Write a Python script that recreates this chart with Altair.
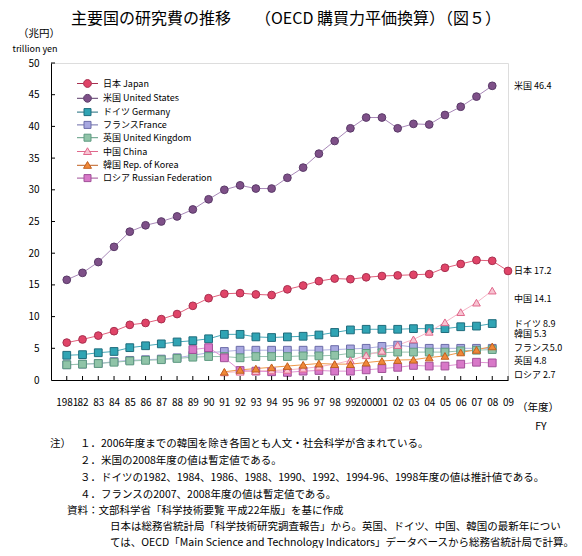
import altair as alt
import pandas as pd

FONT = "Noto Sans CJK JP"

# ---------------- data ----------------
years_all = list(range(1981, 2010))
series_names = ["日本 Japan", "米国 United States", "ドイツ Germany", "フランスFrance",
                "英国 United Kingdom", "中国 China", "韓国 Rep. of Korea", "ロシア Russian Federation"]
start_years = [1981, 1981, 1981, 1981, 1981, 1991, 1991, 1989]

japan = [5.9, 6.4, 7.0, 7.7, 8.7, 9.0, 9.6, 10.4, 11.7, 12.9, 13.6, 13.7, 13.5, 13.4, 14.3,
         14.9, 15.6, 16.0, 15.9, 16.2, 16.4, 16.5, 16.6, 16.7, 17.7, 18.3, 18.9, 18.8, 17.2]
usa = [15.8, 16.9, 18.6, 21.0, 23.4, 24.4, 25.0, 25.8, 26.9, 28.5, 30.0, 30.7, 30.2, 30.2,
       31.9, 33.5, 35.7, 37.7, 39.7, 41.4, 41.4, 39.7, 40.4, 40.3, 41.8, 43.1, 44.7, 46.4]
germany = [3.9, 4.0, 4.3, 4.5, 5.1, 5.4, 5.7, 6.0, 6.2, 6.5, 7.2, 7.2, 6.8, 6.7, 6.8, 6.9,
           7.1, 7.5, 7.9, 8.0, 8.0, 8.0, 8.1, 8.1, 8.1, 8.4, 8.5, 8.9]
france = [2.4, 2.5, 2.6, 2.9, 3.1, 3.2, 3.3, 3.5, 3.9, 4.3, 4.5, 4.7, 4.7, 4.7, 4.7, 4.7,
          4.7, 4.8, 4.9, 5.0, 5.3, 5.5, 5.2, 5.0, 5.0, 5.0, 5.0, 5.0]
uk = [2.4, 2.5, 2.6, 2.8, 3.0, 3.1, 3.2, 3.4, 3.6, 3.7, 3.7, 3.5, 3.7, 3.7, 3.7, 3.8, 3.8,
      3.9, 4.2, 4.2, 4.3, 4.4, 4.4, 4.4, 4.4, 4.6, 4.7, 4.8]
china = [1.2, 1.3, 1.4, 1.5, 1.6, 1.8, 2.1, 2.5, 3.1, 3.9, 4.6, 5.5, 6.4, 7.6, 9.1, 10.7,
         12.2, 14.1]
korea = [1.3, 1.6, 1.8, 2.0, 2.2, 2.4, 2.6, 2.5, 2.5, 2.75, 3.0, 3.15, 3.2, 3.55, 3.8, 4.35,
         4.75, 5.3]
russia = [4.8, 5.1, 3.5, 1.5, 1.4, 1.3, 1.2, 1.4, 1.5, 1.4, 1.4, 1.6, 1.8, 2.0, 2.3, 2.2,
          2.2, 2.5, 2.8, 2.7]
series_values = [japan, usa, germany, france, uk, china, korea, russia]

end_labels = ["米国 46.4", "日本 17.2", "中国 14.1", "ドイツ 8.9", "韓国 5.3",
              "フランス5.0", "英国 4.8", "ロシア 2.7"]
end_label_y = [46.4, 17.2, 12.7, 8.9, 7.3, 5.0, 2.95, 0.75]

y_ticks = list(range(5, 51, 5))

notes = [
    "１．2006年度までの韓国を除き各国とも人文・社会科学が含まれている。",
    "２．米国の2008年度の値は暫定値である。",
    "３．ドイツの1982、1984、1986、1988、1990、1992、1994-96、1998年度の値は推計値である。",
    "４．フランスの2007、2008年度の値は暫定値である。",
]
source_lines = [
    "資料：文部科学省「科学技術要覧 平成22年版」を基に作成",
    "日本は総務省統計局「科学技術研究調査報告」から。英国、ドイツ、中国、韓国の最新年につい",
    "ては、OECD「Main Science and Technology Indicators」データベースから総務省統計局で計算。",
]

rows = []
for name, start, vals in zip(series_names, start_years, series_values):
    for i, v in enumerate(vals):
        rows.append({"year": start + i, "value": v, "series": name})
df = pd.DataFrame(rows)

# ---------------- style ----------------
line_colors = ["#e0607c", "#a888b8", "#48a8b8", "#b0b0e0", "#98c4b0", "#f6b4c6", "#f09848", "#e094d4"]
fill_colors = ["#e04468", "#7e5088", "#30a4b4", "#a8a8e0", "#90c4a8", "#f8c4d2", "#f08838", "#d878c8"]
stroke_colors = ["#a83050", "#5a3a68", "#1e6c7c", "#6c6ca8", "#5e9a80", "#e0688c", "#c06020", "#a05098"]
CIRC = "M-2.1,0H-0.78M0.78,0H2.1M-0.78,0A0.78,0.78 0 1,0 0.78,0A0.78,0.78 0 1,0 -0.78,0Z"
SQ = "M-2.1,0H-0.7M0.7,0H2.1M-0.7,-0.7H0.7V0.7H-0.7Z"
TRI = "M-2.1,0H-0.4M0.4,0H2.1M0,-0.75L0.8,0.6H-0.8Z"
legend_paths = [CIRC, CIRC, SQ, SQ, SQ, TRI, TRI, SQ]
marker_groups = {
    "circle": [series_names[0], series_names[1]],
    "square": [series_names[2], series_names[3], series_names[4], series_names[7]],
    "triangle-up": [series_names[5], series_names[6]],
}

W, H = 457, 317
PAD_L, PAD_T = 43, 55
TOTAL_W, TOTAL_H = 566, 540
OX, OY = 8 + PAD_L, 8 + PAD_T  # page position of plot origin

x_scale = alt.Scale(domain=[1980, 2009], nice=False, zero=False)
y_scale = alt.Scale(domain=[0, 50], nice=False)
label_expr = ("datum.value == 1981 || datum.value == 2000 ? toString(datum.value) : "
              "slice(toString(datum.value), 2)")

x_axis = alt.Axis(values=years_all, labelExpr=label_expr, ticks=False, grid=False, title=None,
                  labelOverlap=False, labelFlush=False, labelPadding=17, labelFontSize=10,
                  labelFont=FONT, labelColor="#000", domainColor="#000", domainWidth=1)
y_axis = alt.Axis(values=list(range(0, 51, 5)), ticks=False, grid=False, title=None,
                  labelPadding=12, labelFontSize=10, labelFont=FONT, labelColor="#000",
                  domainColor="#000", domainWidth=1)

X = alt.X("year:Q", scale=x_scale, axis=x_axis)
Y = alt.Y("value:Q", scale=y_scale, axis=y_axis)

base = alt.Chart(df)

lines = base.mark_line(strokeWidth=1).encode(
    x=X, y=Y,
    color=alt.Color("series:N", scale=alt.Scale(domain=series_names, range=line_colors), legend=None),
    detail="series:N",
)

point_layers = []
for shape, members in marker_groups.items():
    point_layers.append(
        base.transform_filter(alt.FieldOneOfPredicate(field="series", oneOf=members))
        .mark_point(shape=shape, filled=True, size=60, strokeWidth=1, opacity=1)
        .encode(
            x=X, y=Y,
            fill=alt.Fill("series:N", scale=alt.Scale(domain=series_names, range=fill_colors), legend=None),
            stroke=alt.Stroke("series:N", scale=alt.Scale(domain=series_names, range=stroke_colors), legend=None),
        )
    )

legend_kw = dict(orient="none", legendX=31, legendY=15, title=None, labelFont=FONT,
                 labelFontSize=9, labelColor="#000", symbolSize=100, symbolStrokeWidth=1,
                 rowPadding=1.8, labelOffset=10, padding=0, symbolOpacity=1)
# legend-only layer: draws no rows, entries come from the scale domains
legend_layer = base.transform_filter(alt.datum.year < 0).mark_point(filled=True).encode(
    x=X, y=Y,
    fill=alt.Fill("series:N", scale=alt.Scale(domain=series_names, range=fill_colors),
                  legend=alt.Legend(**legend_kw)),
    stroke=alt.Stroke("series:N", scale=alt.Scale(domain=series_names, range=stroke_colors),
                      legend=alt.Legend(**legend_kw)),
    shape=alt.Shape("series:N", scale=alt.Scale(domain=series_names, range=legend_paths),
                    legend=alt.Legend(**legend_kw)),
)

# inward ticks
xtick_df = pd.DataFrame({"year": years_all})
xticks = alt.Chart(xtick_df).mark_rule(color="#000", strokeWidth=1).encode(
    x=X, y=alt.value(H), y2=alt.value(H - 4),
)
ytick_df = pd.DataFrame({"value": y_ticks})
yticks = alt.Chart(ytick_df).mark_rule(color="#000", strokeWidth=1).encode(
    y=Y, x=alt.value(0), x2=alt.value(4),
)

# end labels
end_df = pd.DataFrame({"label": end_labels, "value": end_label_y, "year": [2009] * len(end_labels)})
end_text = alt.Chart(end_df).mark_text(align="left", baseline="middle", dx=6, fontSize=9,
                                       font=FONT, color="#000").encode(
    x=X, y=Y, text="label:N",
)


def page_text(text, px, py, size=10, align="left"):
    return alt.Chart(pd.DataFrame({"t": [text]})).mark_text(
        align=align, baseline="middle", fontSize=size, font=FONT, color="#000"
    ).encode(text="t:N", x=alt.value(px - OX), y=alt.value(py - OY))


NOTE_FS = 10.5
annotations = [
    page_text("主要国の研究費の推移　　（OECD 購買力平価換算）（図５）", 286, 19, 16, "center"),
    page_text("（兆円）", 39, 34, 10.5, "center"),
    page_text("trillion yen", 35, 49, 9, "center"),
    page_text("（年度）", 538, 408, 10.5, "center"),
    page_text("FY", 541, 427, 10.5, "center"),
    page_text("注）", 50, 444, NOTE_FS),
]
note_y = [444, 461, 478, 495]
for t, yy in zip(notes, note_y):
    annotations.append(page_text(t, 80, yy, NOTE_FS))
src_pos = [(67, 511), (110, 527), (110, 543)]
for t, (xx, yy) in zip(source_lines, src_pos):
    annotations.append(page_text(t, xx, yy, NOTE_FS))

chart = alt.layer(lines, *point_layers, legend_layer, xticks, yticks, end_text, *annotations).properties(
    width=W, height=H,
    autosize=alt.AutoSizeParams(type="none"),
    padding={"left": PAD_L, "top": PAD_T, "right": TOTAL_W - PAD_L - W, "bottom": TOTAL_H - PAD_T - H},
).resolve_scale(
    color="independent", fill="independent", stroke="independent", shape="independent"
).configure_view(stroke=None).configure(background="white")

chart.save("out.html", embed_options={"renderer": "svg", "actions": False})
